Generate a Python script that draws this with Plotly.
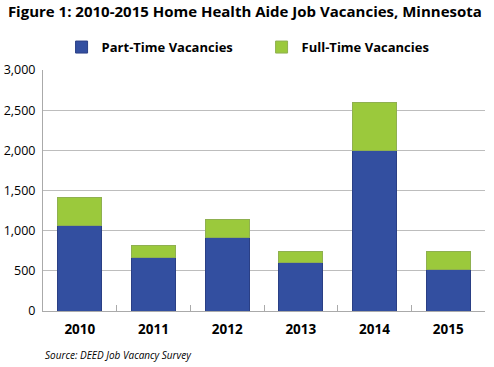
import plotly.graph_objects as go

years = ["2010", "2011", "2012", "2013", "2014", "2015"]
part_time = [1060, 665, 915, 600, 1995, 517]
full_time = [355, 150, 227, 146, 595, 225]

fig = go.Figure()
fig.add_trace(go.Bar(x=years, y=part_time, name="<b>Part-Time Vacancies</b>",
                     marker=dict(color="#334FA0", line=dict(color="#2a3f85", width=1)),
                     width=0.6))
fig.add_trace(go.Bar(x=years, y=full_time, name="<b>Full-Time Vacancies</b>",
                     marker=dict(color="#9BC93C", line=dict(color="#8fb050", width=1)),
                     width=0.6))

fig.update_layout(
    width=494, height=367,
    barmode="stack",
    paper_bgcolor="white", plot_bgcolor="white",
    margin=dict(l=43, r=9, t=70, b=56, autoexpand=False),
    font=dict(family="Open Sans, Liberation Sans, sans-serif", color="#1a1a1a", size=13),
    title=dict(text="<b>Figure 1: 2010-2015 Home Health Aide Job Vacancies, Minnesota</b>",
               xref="container", x=0.016, xanchor="left", yref="container", y=0.968, yanchor="middle",
               automargin=False,
               font=dict(size=15, family="Open Sans, Liberation Sans, sans-serif", color="black")),
    legend=dict(orientation="h", xref="paper", x=0.042, xanchor="left",
                yref="paper", y=1.095, yanchor="middle",
                traceorder="normal", font=dict(size=13, color="black"),
                itemwidth=30, entrywidth=155, entrywidthmode="pixels"),
    showlegend=True,
)
fig.update_yaxes(range=[0, 3000], dtick=500, tickformat=",", showgrid=True,
                 gridcolor="#bdbdbd", gridwidth=1, showline=True, linecolor="#aaaaaa",
                 ticks="", zeroline=False, automargin=False, ticklabelstandoff=4,
                 tickfont=dict(size=12.5, color="black"))
fig.update_xaxes(showline=True, linecolor="#aaaaaa", ticks="inside", tickson="boundaries",
                 ticklen=6, tickcolor="#aaaaaa", tickprefix="<b>", ticksuffix="</b>",
                 automargin=False, ticklabelstandoff=6, tickfont=dict(size=13.5, color="black"))

fig.add_annotation(text="<i>Source: DEED Job Vacancy Survey</i>", xref="paper", yref="paper",
                   x=0.0, xanchor="left", y=-0.183, yanchor="middle", showarrow=False,
                   font=dict(size=10, color="black"))

fig.write_html("out.html", config={"displayModeBar": False},
               post_script="document.body.style.margin='0';")
